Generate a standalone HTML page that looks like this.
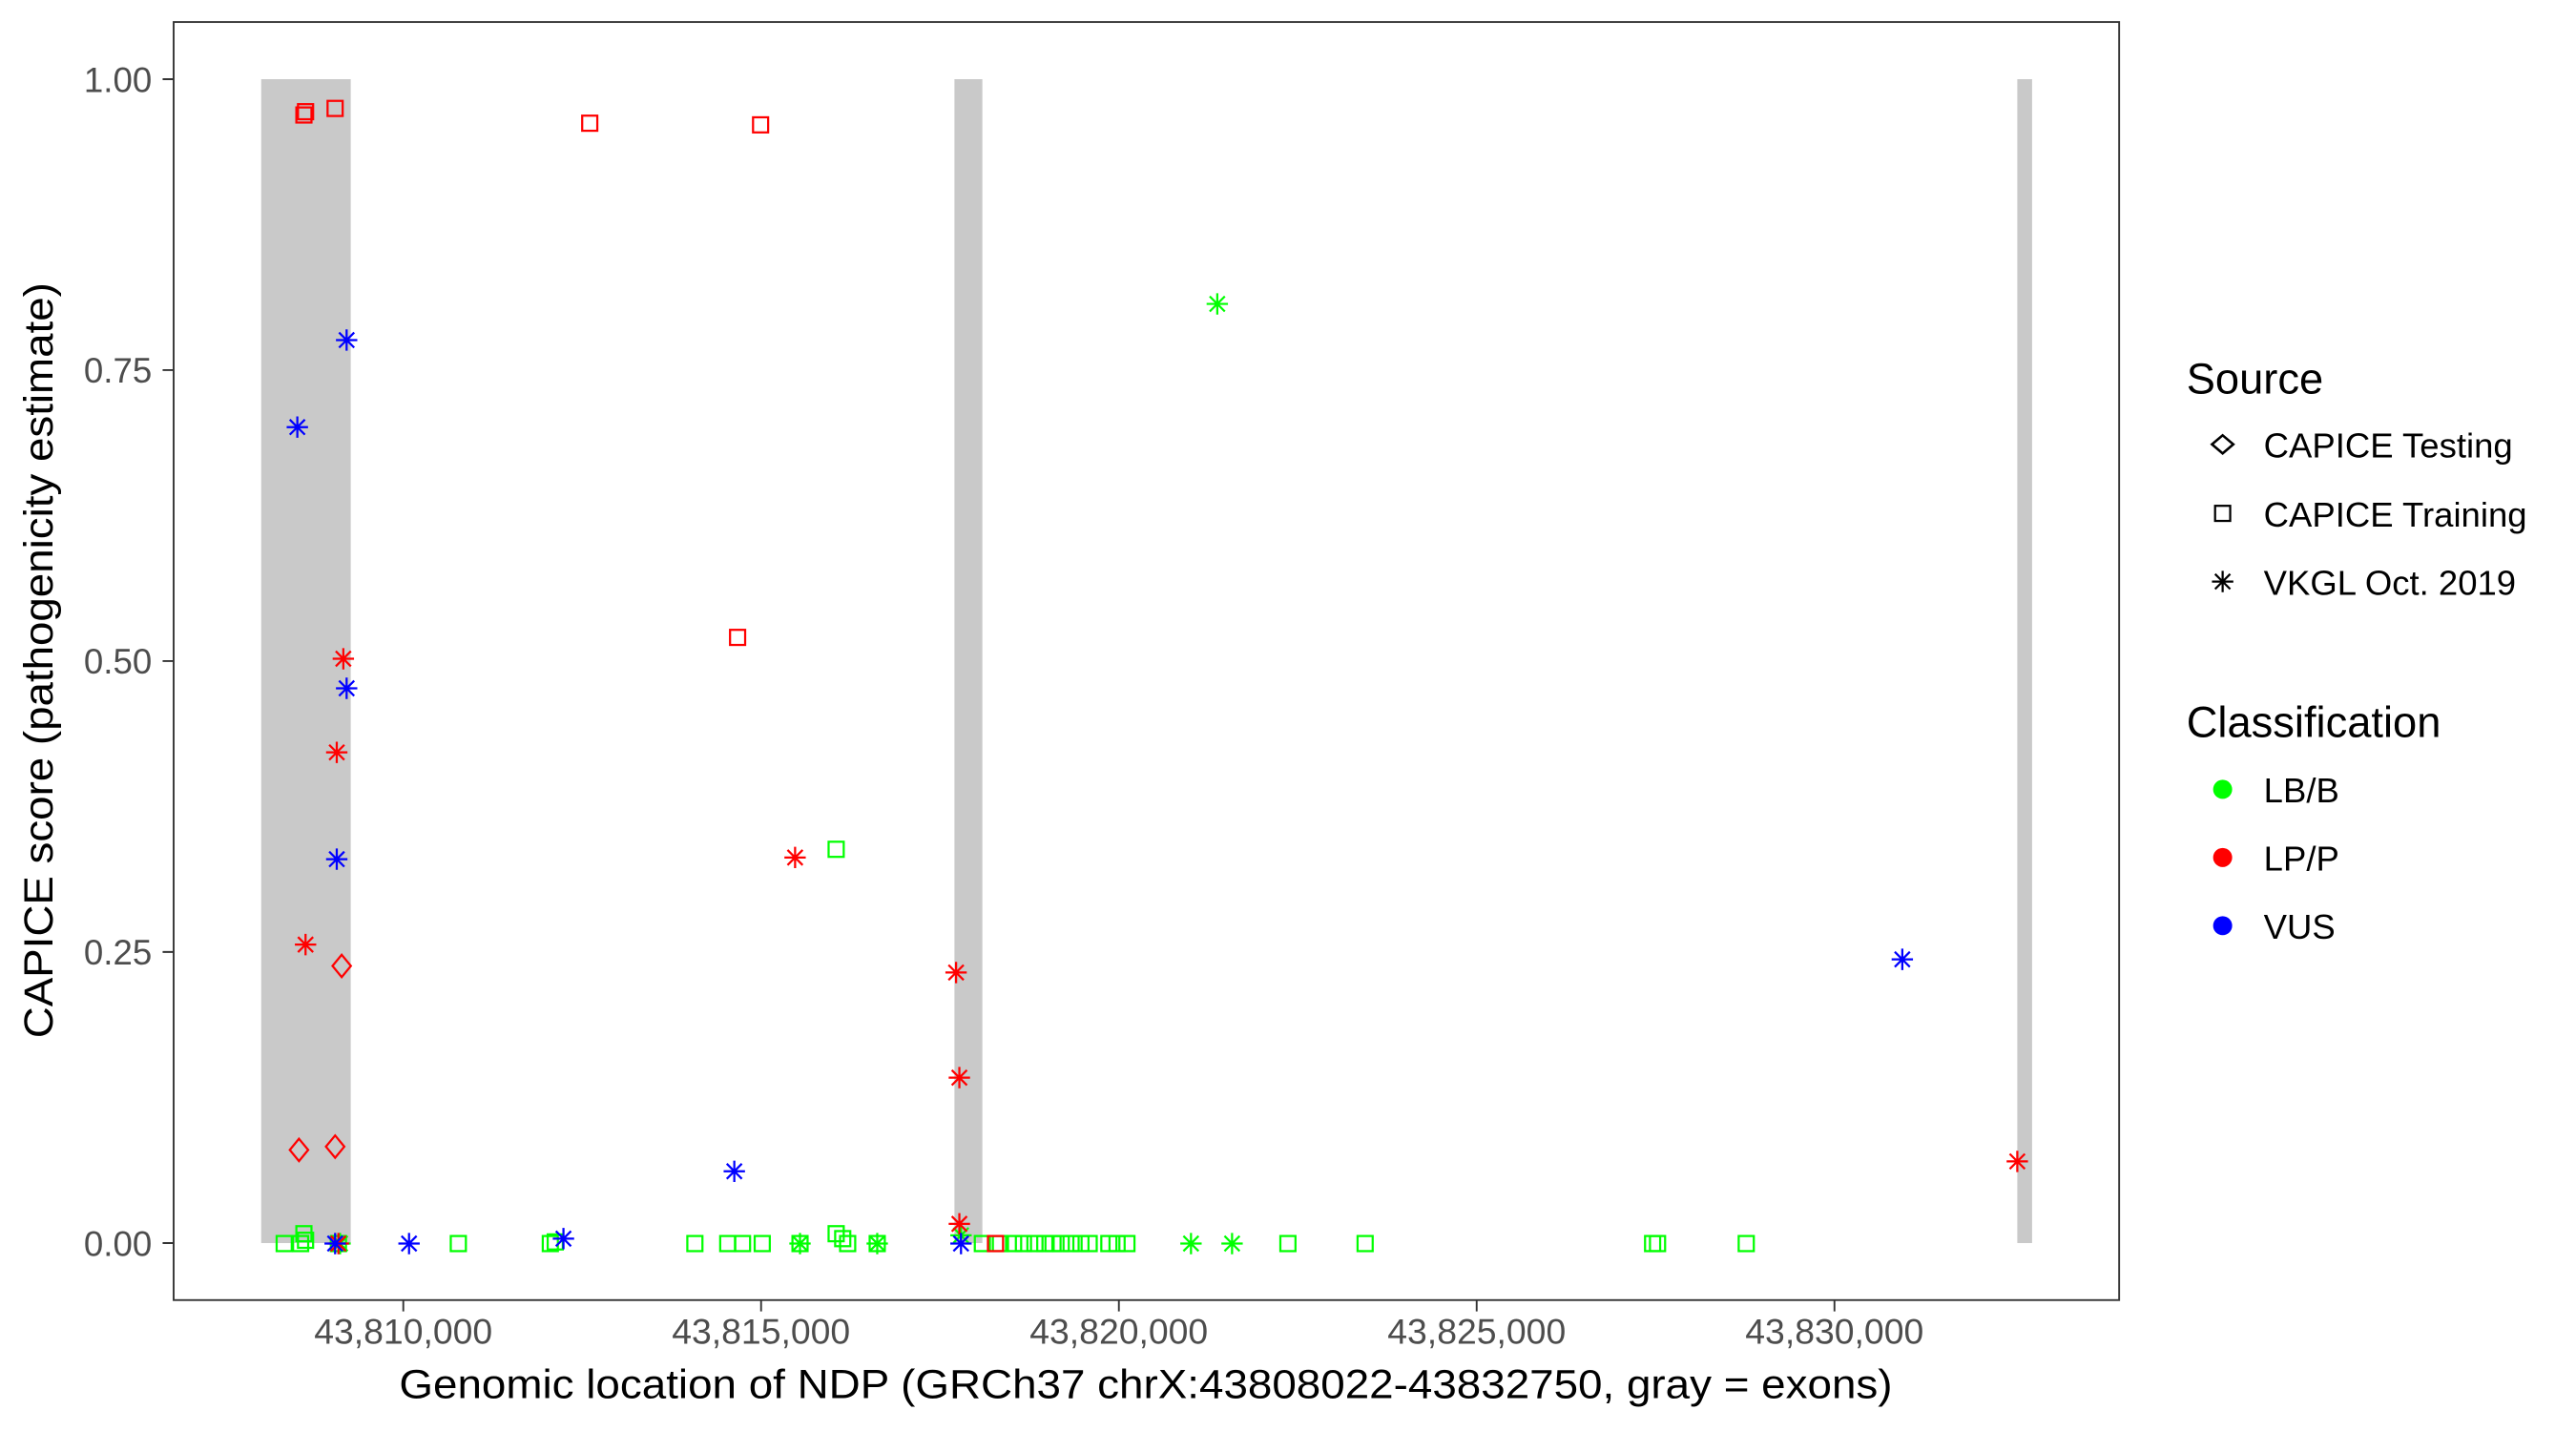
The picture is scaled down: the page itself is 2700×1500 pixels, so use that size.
<!DOCTYPE html>
<html><head><meta charset="utf-8"><style>html,body{margin:0;padding:0;background:#fff}svg{display:block}</style></head>
<body>
<svg width="2700" height="1500" viewBox="0 0 1568.1 871.1" preserveAspectRatio="none" xmlns="http://www.w3.org/2000/svg" font-family="Liberation Sans, Arial, sans-serif">
<defs>
<g id="sq"><rect x="-4.6" y="-4.6" width="9.2" height="9.2" fill="none" stroke-width="1.3"/></g>
<g id="dm"><path d="M0,-6.8 L5.6,0 L0,6.8 L-5.6,0 Z" fill="none" stroke-width="1.3"/></g>
<g id="dl"><path d="M0,-5.5 L6.5,0 L0,5.5 L-6.5,0 Z" fill="none" stroke-width="1.5"/></g>
<g id="as" stroke-width="1.3"><path d="M-6.5,0H6.5M0,-6.5V6.5M-4.6,-4.6L4.6,4.6M-4.6,4.6L4.6,-4.6"/></g>
</defs>
<rect width="1568.1" height="871.1" fill="#fff"/>
<g>
<rect x="159" y="48.2" width="54.5" height="708.5" fill="#C9C9C9"/>
<rect x="581" y="48.2" width="17" height="708.5" fill="#C9C9C9"/>
<rect x="1228" y="48.2" width="9" height="708.5" fill="#C9C9C9"/>
<g stroke="#00FF00">
<use href="#sq" x="173" y="757"/><use href="#sq" x="183" y="757"/><use href="#sq" x="186" y="755"/><use href="#sq" x="185" y="751"/><use href="#sq" x="206" y="757"/><use href="#sq" x="279" y="757"/><use href="#sq" x="335" y="757"/><use href="#sq" x="338" y="756"/><use href="#sq" x="423" y="757"/><use href="#sq" x="443" y="757"/><use href="#sq" x="452" y="757"/><use href="#sq" x="464" y="757"/><use href="#sq" x="487" y="757"/><use href="#sq" x="509" y="751"/><use href="#sq" x="513" y="754"/><use href="#sq" x="516" y="757"/><use href="#sq" x="534" y="757"/><use href="#sq" x="598" y="757"/><use href="#sq" x="609" y="757"/><use href="#sq" x="617" y="757"/><use href="#sq" x="623" y="757"/><use href="#sq" x="630" y="757"/><use href="#sq" x="636" y="757"/><use href="#sq" x="641" y="757"/><use href="#sq" x="646" y="757"/><use href="#sq" x="652" y="757"/><use href="#sq" x="658" y="757"/><use href="#sq" x="663" y="757"/><use href="#sq" x="675" y="757"/><use href="#sq" x="680" y="757"/><use href="#sq" x="686" y="757"/><use href="#sq" x="784" y="757"/><use href="#sq" x="831" y="757"/><use href="#sq" x="1006" y="757"/><use href="#sq" x="1009" y="757"/><use href="#sq" x="1063" y="757"/><use href="#sq" x="509" y="517"/>
<use href="#as" x="741" y="185"/><use href="#as" x="725" y="757"/><use href="#as" x="750" y="757"/><use href="#as" x="487" y="757"/><use href="#as" x="534" y="757"/><use href="#as" x="585" y="752"/><use href="#as" x="207" y="757"/>
</g>
<g stroke="#FF0000">
<use href="#sq" x="185" y="70"/><use href="#sq" x="186" y="68"/><use href="#sq" x="204" y="66"/><use href="#sq" x="359" y="75"/><use href="#sq" x="463" y="76"/><use href="#sq" x="449" y="388"/><use href="#sq" x="606" y="757"/>
<use href="#dm" x="208" y="588"/><use href="#dm" x="182" y="700"/><use href="#dm" x="204" y="698"/>
<use href="#as" x="209" y="401"/><use href="#as" x="205" y="458"/><use href="#as" x="186" y="575"/><use href="#as" x="484" y="522"/><use href="#as" x="582" y="592"/><use href="#as" x="584" y="656"/><use href="#as" x="584" y="745"/><use href="#as" x="1228" y="707"/><use href="#as" x="206" y="757"/>
</g>
<g stroke="#0000FF">
<use href="#as" x="211" y="207"/><use href="#as" x="181" y="260"/><use href="#as" x="211" y="419"/><use href="#as" x="205" y="523"/><use href="#as" x="447" y="713"/><use href="#as" x="1158" y="584"/><use href="#as" x="249" y="757"/><use href="#as" x="343" y="754"/><use href="#as" x="204" y="757"/><use href="#as" x="585" y="757"/>
</g>
</g>
<rect x="105.7" y="13.4" width="1184.3" height="778" fill="none" stroke="#333" stroke-width="1.1"/>
<g stroke="#333" stroke-width="1.1">
<path d="M99,48.2H105.7M99,225.3H105.7M99,402.4H105.7M99,579.5H105.7M99,756.7H105.7"/>
<path d="M245.5,791.4V798.3M463.3,791.4V798.3M681.1,791.4V798.3M898.9,791.4V798.3M1116.7,791.4V798.3"/>
</g>
<g fill="#4D4D4D" font-size="21.3" text-anchor="end">
<text x="92.5" y="55.9">1.00</text><text x="92.5" y="233">0.75</text><text x="92.5" y="410.1">0.50</text><text x="92.5" y="587.2">0.25</text><text x="92.5" y="764.4">0.00</text>
</g>
<g fill="#4D4D4D" font-size="21.7" text-anchor="middle">
<text x="245.5" y="818">43,810,000</text><text x="463.3" y="818">43,815,000</text><text x="681.1" y="818">43,820,000</text><text x="898.9" y="818">43,825,000</text><text x="1116.7" y="818">43,830,000</text>
</g>
<text x="697.5" y="851" font-size="25" text-anchor="middle" textLength="909" lengthAdjust="spacingAndGlyphs">Genomic location of NDP (GRCh37 chrX:43808022-43832750, gray = exons)</text>
<text transform="translate(32,402) rotate(-90)" font-size="25" text-anchor="middle" textLength="460" lengthAdjust="spacingAndGlyphs">CAPICE score (pathogenicity estimate)</text>
<text x="1331" y="239.5" font-size="26.3">Source</text>
<g stroke="#000"><use href="#dl" x="1353" y="270.5"/><use href="#sq" x="1353" y="312.5"/><use href="#as" x="1353" y="354"/></g>
<g font-size="21.2"><text x="1378" y="278.5">CAPICE Testing</text><text x="1378" y="320.5">CAPICE Training</text><text x="1378" y="362">VKGL Oct. 2019</text></g>
<text x="1331" y="448.5" font-size="26.3">Classification</text>
<circle cx="1353" cy="480.5" r="5.8" fill="#00FF00"/><circle cx="1353" cy="522" r="5.8" fill="#FF0000"/><circle cx="1353" cy="563.5" r="5.8" fill="#0000FF"/>
<g font-size="21.2"><text x="1378" y="488.5">LB/B</text><text x="1378" y="530">LP/P</text><text x="1378" y="571.5">VUS</text></g>
</svg>
</body></html>
